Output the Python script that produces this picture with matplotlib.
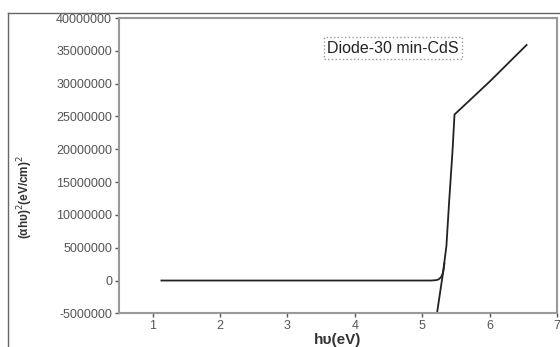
import matplotlib.pyplot as plt
from matplotlib.lines import Line2D

# absorption curve
hv = [1.13, 2.0, 3.0, 4.0, 5.0, 5.13, 5.2, 5.24, 5.28, 5.31, 5.36, 5.40, 5.45, 5.48, 6.0, 6.55]
ahv2 = [0, 0, 0, 0, 0, 0, 50000, 150000, 500000, 1200000, 5300000, 12000000,
        19700000, 25300000, 30300000, 35900000]

# extrapolated tangent
tan_x = [5.22, 5.33]
tan_y = [-5000000, 2600000]

yticks = [-5000000, 0, 5000000, 10000000, 15000000, 20000000, 25000000,
          30000000, 35000000, 40000000]
xticks = [1, 2, 3, 4, 5, 6, 7]

plt.rcParams["font.family"] = ["Liberation Sans", "DejaVu Sans"]

fig = plt.figure(figsize=(5.6, 3.47), dpi=100)
ax = fig.add_axes([0.2125, 0.097, 0.782, 0.851])

ax.plot(hv, ahv2, color="#222222", lw=1.3)
ax.plot(tan_x, tan_y, color="#222222", lw=1.3)

ax.set_xlim(0.5, 7)
ax.set_ylim(-5000000, 40000000)
ax.set_xticks(xticks)
ax.set_yticks(yticks)
ax.set_yticklabels([str(v) for v in yticks])
ax.tick_params(labelsize=9, colors="#555555", length=3, width=1, pad=2)
for s in ax.spines.values():
    s.set_color("#999999")
    s.set_linewidth(1.5)

ax.text(0.626, 0.898, "Diode-30 min-CdS", transform=ax.transAxes, fontsize=11.5,
        ha="center", va="center", color="#222222",
        bbox=dict(boxstyle="square,pad=0.2", fc="white", ec="#999999", ls=":", lw=1))

fig.text(338 / 560, 1 - 340 / 347, "h\u03c5(eV)", ha="center", va="center",
         fontsize=11, fontweight="bold", color="#333333")
fig.text(25 / 560, 1 - 197 / 347, "(\u03b1h\u03c5)$^2$(eV/cm)$^2$", rotation=90,
         ha="center", va="center", fontsize=8.5, fontweight="bold", color="#333333")

# frame around image
fig.add_artist(Line2D([8 / 560, 8 / 560], [0, 1 - 13 / 347], transform=fig.transFigure,
                      color="#666666", lw=1))
fig.add_artist(Line2D([8 / 560, 1], [1 - 13 / 347, 1 - 13 / 347], transform=fig.transFigure,
                      color="#666666", lw=1))

plt.savefig("out.png", dpi=100)
